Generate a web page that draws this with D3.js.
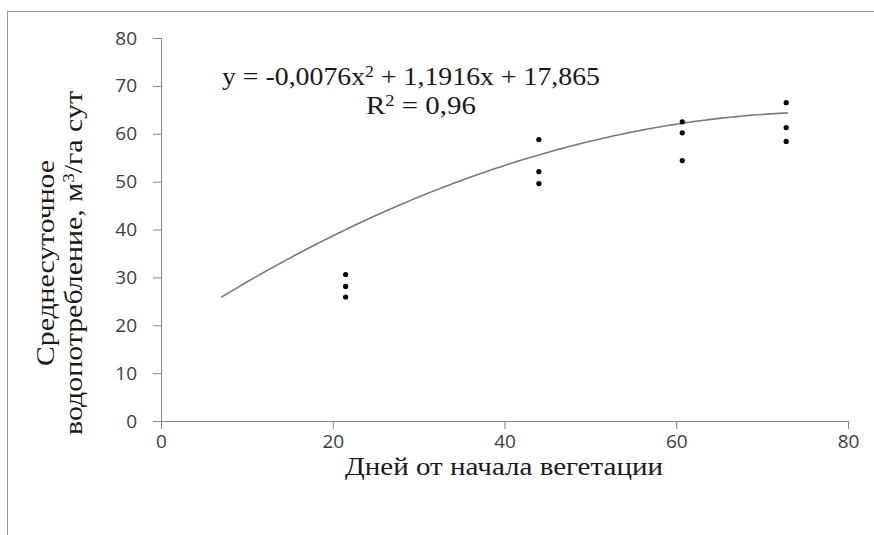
<!DOCTYPE html>
<html lang="ru">
  <head>
    <meta charset="UTF-8" />
    <title>Водопотребление</title>
    <script src="https://d3js.org/d3.v7.min.js"></script>
    <style>
      body { margin: 0; background: #fff; }
      .axis path, .axis line { stroke: #868686; }
      .axis text { font-family: "Open Sans", sans-serif; font-size: 19px; fill: #404040; }
    </style>
  </head>

  <body>
    <svg width="874" height="535"></svg>

    <script>
      // observed points (days from start of vegetation, m3/ha per day)
      const days = [21.5, 21.5, 21.5, 44, 44, 44, 60.7, 60.7, 60.7, 72.8, 72.8, 72.8];
      const water = [30.6, 28.1, 25.9, 58.8, 52.1, 49.6, 62.5, 60.2, 54.4, 66.5, 61.3, 58.4];

      // polynomial trendline shown on the chart: a*x^2 + b*x + c, drawn from 7 to 73
      const trendCoef = [-0.0076, 1.1916, 17.865];
      const trendRange = [7, 73];

      const xTicks = [0, 20, 40, 60, 80];
      const yTicks = [0, 10, 20, 30, 40, 50, 60, 70, 80];

      let svg = d3.select("svg");

      // outer frame (cut by the right/bottom edge)
      svg.append("rect")
        .attr("x", 7.5).attr("y", 11.5)
        .attr("width", 900).attr("height", 600)
        .attr("fill", "none").attr("stroke", "#999");

      const x = d3.scaleLinear().domain([0, 80]).range([161, 848]);
      const y = d3.scaleLinear().domain([0, 80]).range([421, 38]);

      svg.append("g")
        .attr("class", "axis")
        .attr("transform", "translate(0,421)")
        .call(d3.axisBottom(x).tickValues(xTicks).tickSize(8).tickSizeOuter(0).tickPadding(6))
        .call(g => g.select(".domain").attr("d", "M153,0.5H848"));

      svg.append("g")
        .attr("class", "axis")
        .attr("transform", "translate(161,0)")
        .call(d3.axisLeft(y).tickValues(yTicks).tickSize(8).tickSizeOuter(0).tickPadding(16))
        .call(g => g.select(".domain").attr("d", "M0.5,38V429"));

      // trendline
      const poly = t => trendCoef[0] * t * t + trendCoef[1] * t + trendCoef[2];
      const xs = d3.range(trendRange[0], trendRange[1] + 0.001, 0.5);
      const line = d3.line().x(d => x(d)).y(d => y(poly(d)));
      svg.append("path")
        .datum(xs)
        .attr("d", line)
        .attr("fill", "none")
        .attr("stroke", "#7a7a7a")
        .attr("stroke-width", 1.6);

      // points
      svg.append("g")
        .selectAll("circle")
        .data(days)
        .enter()
        .append("circle")
        .attr("cx", d => x(d))
        .attr("cy", (d, i) => y(water[i]))
        .attr("r", 2.6)
        .attr("fill", "#000");

      const serif = "'Liberation Serif', 'Times New Roman', serif";

      // equation
      let eq = svg.append("text")
        .attr("x", 222).attr("y", 85)
        .attr("textLength", 378).attr("lengthAdjust", "spacingAndGlyphs")
        .attr("font-family", serif).attr("font-size", 25).attr("fill", "#1a1a1a");
      eq.append("tspan").text("y = -0,0076x");
      eq.append("tspan").attr("font-size", 16).attr("dy", -8).text("2");
      eq.append("tspan").attr("dy", 8).text(" + 1,1916x + 17,865");

      let r2 = svg.append("text")
        .attr("x", 366).attr("y", 114)
        .attr("textLength", 110).attr("lengthAdjust", "spacingAndGlyphs")
        .attr("font-family", serif).attr("font-size", 25).attr("fill", "#1a1a1a");
      r2.append("tspan").text("R");
      r2.append("tspan").attr("font-size", 16).attr("dy", -8).text("2");
      r2.append("tspan").attr("dy", 8).text(" = 0,96");

      // axis titles
      svg.append("text")
        .attr("x", 345).attr("y", 475)
        .attr("textLength", 318).attr("lengthAdjust", "spacingAndGlyphs")
        .attr("font-family", serif).attr("font-size", 25).attr("fill", "#1a1a1a")
        .text("Дней от начала вегетации");

      let yt = svg.append("g")
        .attr("transform", "translate(0,263) rotate(-90)")
        .attr("font-family", serif).attr("font-size", 25).attr("fill", "#1a1a1a");
      yt.append("text")
        .attr("x", -103).attr("y", 54)
        .attr("textLength", 206).attr("lengthAdjust", "spacingAndGlyphs")
        .text("Среднесуточное");
      let l2 = yt.append("text")
        .attr("x", -172).attr("y", 82)
        .attr("textLength", 344).attr("lengthAdjust", "spacingAndGlyphs");
      l2.append("tspan").text("водопотребление, м");
      l2.append("tspan").attr("font-size", 16).attr("dy", -8).text("3");
      l2.append("tspan").attr("dy", 8).text("/га сут");
    </script>
  </body>
</html>
